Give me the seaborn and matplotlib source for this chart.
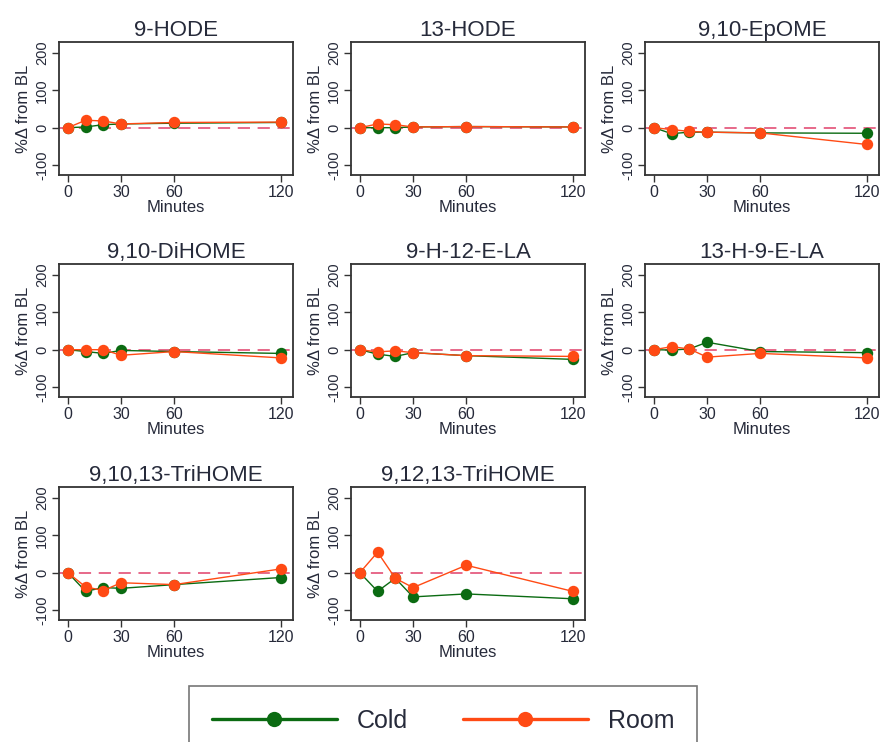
import numpy as np
import pandas as pd
import matplotlib
matplotlib.use("Agg")
import matplotlib.pyplot as plt
from matplotlib.lines import Line2D
import seaborn as sns

minutes = [0, 10, 20, 30, 60, 120]
panels = ["9-HODE", "13-HODE", "9,10-EpOME", "9,10-DiHOME", "9-H-12-E-LA",
          "13-H-9-E-LA", "9,10,13-TriHOME", "9,12,13-TriHOME"]
cold = {
    "9-HODE": [0, 2, 8, 10, 12, 14],
    "13-HODE": [0, 0, 0, 2, 3, 2],
    "9,10-EpOME": [0, -16, -12, -12, -14, -15],
    "9,10-DiHOME": [0, -5, -10, -2, -5, -10],
    "9-H-12-E-LA": [0, -12, -18, -8, -16, -26],
    "13-H-9-E-LA": [0, -1, 2, 20, -5, -8],
    "9,10,13-TriHOME": [0, -50, -40, -42, -32, -13],
    "9,12,13-TriHOME": [0, -50, -15, -65, -57, -70],
}
room = {
    "9-HODE": [0, 20, 18, 10, 14, 15],
    "13-HODE": [0, 10, 8, 2, 3, 2],
    "9,10-EpOME": [0, -5, -10, -12, -14, -45],
    "9,10-DiHOME": [0, 0, 0, -15, -5, -22],
    "9-H-12-E-LA": [0, -6, -3, -8, -16, -18],
    "13-H-9-E-LA": [0, 8, 2, -20, -10, -22],
    "9,10,13-TriHOME": [0, -38, -48, -27, -32, 10],
    "9,12,13-TriHOME": [0, 55, -15, -40, 20, -50],
}
groups = ["Cold", "Room"]
xticks = [0, 30, 60, 120]
yticks = [-100, 0, 100, 200]

rows = []
for p in panels:
    for m, c, r in zip(minutes, cold[p], room[p]):
        rows.append((p, m, "Cold", c))
        rows.append((p, m, "Room", r))
df = pd.DataFrame(rows, columns=["panel", "Minutes", "group", "value"])

sns.set_style("ticks")
plt.rcParams["font.family"] = ["Liberation Sans", "DejaVu Sans"]
plt.rcParams["axes.unicode_minus"] = False
txt = "#262a3a"
spine_c = "#333333"
palette = {"Cold": "#0b6b12", "Room": "#ff4a14"}

fig = plt.figure(figsize=(8.84, 7.42), dpi=100)
lefts = [59 / 884, 351 / 884, 645 / 884]
bottoms = [1 - 175 / 742, 1 - 397 / 742, 1 - 620 / 742]
w = 234 / 884
h = 133 / 742

for i, p in enumerate(panels):
    r, c = divmod(i, 3)
    ax = fig.add_axes([lefts[c], bottoms[r], w, h])
    ax.axhline(0, color="#e0406a", lw=1.1, ls=(0, (8, 5)), zorder=1)
    sns.lineplot(data=df[df.panel == p], x="Minutes", y="value", hue="group",
                 hue_order=groups, palette=palette, marker="o", markersize=8.2,
                 markeredgewidth=0, lw=1.0, legend=False, ax=ax, zorder=3)
    ax.set_xlim(-5, 127)
    ax.set_ylim(-127, 230)
    ax.set_xticks(xticks)
    ax.set_yticks(yticks)
    ax.tick_params(axis="x", labelsize=11.5, colors=spine_c, labelcolor=txt, length=5, width=1, pad=2)
    ax.tick_params(axis="y", labelsize=10.5, colors=spine_c, labelcolor=txt, length=5, width=1, pad=2,
                   labelrotation=90)
    for lbl in ax.get_yticklabels():
        lbl.set_va("center")
    for s in ax.spines.values():
        s.set_visible(True)
        s.set_color(spine_c)
        s.set_linewidth(1.3)
    ax.set_title(p, fontsize=16, color=txt, pad=4)
    ax.set_xlabel("Minutes", fontsize=12, color=txt, labelpad=0)
    ax.set_ylabel("%Δ from BL", fontsize=12, color=txt, labelpad=3)

handles = [Line2D([], [], color=palette[g], lw=2.4, marker="o", markersize=11,
                  markeredgewidth=0) for g in groups]
leg = fig.legend(handles, groups, loc="upper center", bbox_to_anchor=(0.501, 1 - 686 / 742),
                 ncol=2, fontsize=18, frameon=True, fancybox=False, handlelength=5.0,
                 handletextpad=0.8, columnspacing=2.2, borderpad=0.9, borderaxespad=0)
leg.get_frame().set_edgecolor("#555555")
leg.get_frame().set_linewidth(1.2)
for t in leg.get_texts():
    t.set_color(txt)

fig.savefig("out.png", dpi=100)
